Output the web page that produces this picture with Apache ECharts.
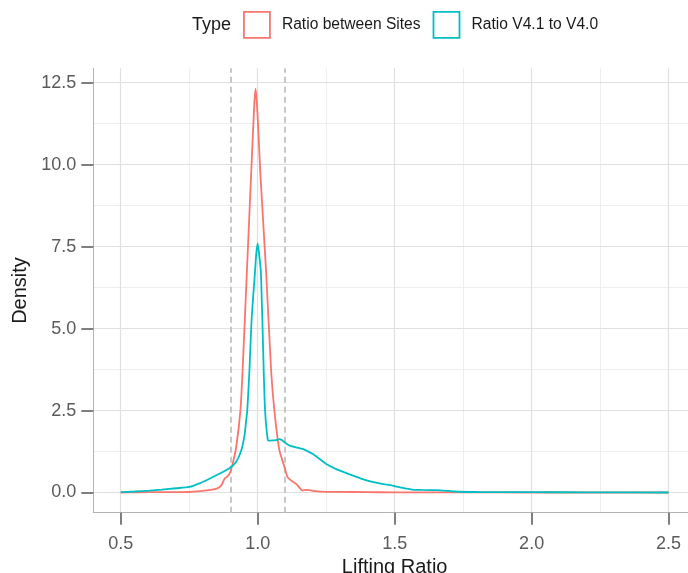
<!DOCTYPE html>
<html>
<head>
<meta charset="utf-8">
<title>Lifting Ratio density</title>
<script src="https://cdn.jsdelivr.net/npm/echarts@6/dist/echarts.min.js"></script>
<style>
  html, body { margin: 0; padding: 0; background: #fff; }
  #chart { width: 688px; height: 573px; }
</style>
</head>
<body>
<div id="chart"></div>
<script>
const seriesNames = ['Ratio between Sites', 'Ratio V4.1 to V4.0']
const seriesColors = ['#F8766D', '#00BFC4']

// density: x = lifting ratio, y = density
const sitesX = [0.50, 0.55, 0.60, 0.65, 0.70, 0.75, 0.79, 0.82, 0.848, 0.867, 0.879, 0.891, 0.900, 0.908,
  0.921, 0.937, 0.945, 0.961, 0.976, 0.984, 0.988, 0.992, 0.996, 1.001, 1.010, 1.031, 1.049, 1.061,
  1.079, 1.097, 1.109, 1.125, 1.140, 1.164, 1.175, 1.190, 1.21, 1.25, 1.30, 1.40, 1.50, 1.70, 2.00, 2.50]
const sitesY = [0.00, 0.005, 0.01, 0.01, 0.01, 0.015, 0.04, 0.07, 0.11, 0.21, 0.42, 0.50, 0.62, 0.85,
  1.35, 2.5, 3.73, 6.8, 9.69, 11.2, 11.9, 12.32, 12.0, 11.3, 9.69, 6.7, 3.73, 2.5,
  1.3, 0.8, 0.47, 0.35, 0.27, 0.06, 0.08, 0.07, 0.04, 0.02, 0.02, 0.01, 0.005, 0.003, 0.0, 0.0]

const versionX = [0.50, 0.55, 0.606, 0.65, 0.703, 0.751, 0.788, 0.824, 0.86, 0.897, 0.921, 0.94, 0.952,
  0.958, 0.962, 0.970, 0.978, 0.990, 0.995, 1.000, 1.005, 1.012, 1.022, 1.027, 1.037, 1.043, 1.055,
  1.068, 1.079, 1.088, 1.100, 1.115, 1.14, 1.164, 1.18, 1.20, 1.225, 1.249, 1.285, 1.315, 1.346,
  1.375, 1.407, 1.45, 1.492, 1.53, 1.564, 1.60, 1.65, 1.68, 1.72, 1.80, 1.90, 2.00, 2.20, 2.50]
const versionY = [0.01, 0.03, 0.06, 0.09, 0.13, 0.17, 0.28, 0.42, 0.57, 0.74, 0.93, 1.28, 1.74,
  2.2, 2.5, 3.73, 5.3, 6.7, 7.3, 7.6, 7.3, 6.7, 3.73, 2.5, 1.6, 1.58, 1.59,
  1.6, 1.63, 1.6, 1.52, 1.44, 1.38, 1.33, 1.27, 1.18, 1.03, 0.88, 0.72, 0.62, 0.52,
  0.43, 0.35, 0.27, 0.21, 0.14, 0.09, 0.08, 0.07, 0.06, 0.03, 0.015, 0.01, 0.01, 0.005, 0.0]

const xTicks = [0.5, 1.0, 1.5, 2.0, 2.5]
const xMinor = [0.75, 1.25, 1.75, 2.25]
const yTicks = [0, 2.5, 5, 7.5, 10, 12.5]
const yMinor = [1.25, 3.75, 6.25, 8.75, 11.25]
const cutLines = [0.9, 1.1]

const font = 'Liberation Sans, Arial, sans-serif'
const majorGrid = { color: '#e0e0e0', width: 1.2, type: 'solid' }
const minorGrid = { color: '#ececec', width: 0.9, type: 'solid' }

const gridLines = [
  ...xMinor.map(v => ({ xAxis: v, lineStyle: minorGrid })),
  ...yMinor.map(v => ({ yAxis: v, lineStyle: minorGrid })),
  ...xTicks.map(v => ({ xAxis: v, lineStyle: majorGrid })),
  ...yTicks.map(v => ({ yAxis: v, lineStyle: majorGrid })),
]

const chart = echarts.init(document.getElementById('chart'))
chart.setOption({
  animation: false,
  textStyle: { fontFamily: font },
  title: {
    text: 'Type', left: 192, top: 16, padding: 0,
    textStyle: { fontSize: 18, fontWeight: 'normal', color: '#1a1a1a', fontFamily: font },
  },
  legend: {
    left: 243, top: 11, padding: 0,
    itemWidth: 26, itemHeight: 26, itemGap: 12,
    textStyle: { fontSize: 15.6, color: '#1a1a1a', padding: [0, 0, 0, 7], fontFamily: font },
    data: seriesNames.map((n, i) => ({
      name: n, icon: 'rect',
      itemStyle: { color: 'rgba(0,0,0,0)', borderColor: seriesColors[i], borderWidth: 1.8 },
    })),
  },
  grid: { left: 93.3, top: 68.3, right: -8, bottom: 60.3, containLabel: false, outerBoundsMode: 'none' },
  xAxis: {
    type: 'value', min: 0.4, max: 2.6,
    name: 'Lifting Ratio', nameLocation: 'middle', nameGap: 35,
    nameTextStyle: { fontSize: 20, color: '#1a1a1a', fontFamily: font },
    splitLine: { show: false },
    axisLine: { show: true, onZero: false, lineStyle: { color: '#b3b3b3', width: 1 } },
    axisTick: { show: true, customValues: xTicks, length: 12, lineStyle: { color: '#555', width: 1.5 } },
    axisLabel: {
      customValues: xTicks, margin: 22, fontSize: 18, color: '#5a5a5a', fontFamily: font,
      formatter: v => v.toFixed(1),
    },
  },
  yAxis: {
    type: 'value', min: -0.616, max: 12.94,
    name: 'Density', nameLocation: 'middle', nameGap: 59,
    nameTextStyle: { fontSize: 20, color: '#1a1a1a', fontFamily: font },
    splitLine: { show: false },
    axisLine: { show: true, onZero: false, lineStyle: { color: '#b3b3b3', width: 1 } },
    axisTick: { show: true, customValues: yTicks, length: 12, lineStyle: { color: '#555', width: 1.5 } },
    axisLabel: {
      customValues: yTicks, margin: 17, fontSize: 18, color: '#5a5a5a', fontFamily: font,
      formatter: v => v.toFixed(1),
    },
  },
  series: [
    {
      name: 'grid', type: 'line', data: [], silent: true, z: 0,
      markLine: { z: 0, silent: true, symbol: ['none', 'none'], label: { show: false }, animation: false, data: gridLines },
    },
    {
      name: 'cut', type: 'line', data: [], silent: true, z: 1,
      markLine: {
        z: 1, silent: true, symbol: ['none', 'none'], label: { show: false }, animation: false,
        data: cutLines.map(v => ({ xAxis: v, lineStyle: { color: '#c2c2c2', width: 1.8, type: [6, 4] } })),
      },
    },
    {
      name: seriesNames[0], type: 'line', z: 3, symbol: 'none', smooth: 0.2,
      lineStyle: { color: seriesColors[0], width: 1.8 }, itemStyle: { color: seriesColors[0] },
      data: sitesX.map((x, i) => [x, sitesY[i]]),
    },
    {
      name: seriesNames[1], type: 'line', z: 4, symbol: 'none', smooth: 0.2,
      lineStyle: { color: seriesColors[1], width: 1.8 }, itemStyle: { color: seriesColors[1] },
      data: versionX.map((x, i) => [x, versionY[i]]),
    },
  ],
})
</script>
</body>
</html>
